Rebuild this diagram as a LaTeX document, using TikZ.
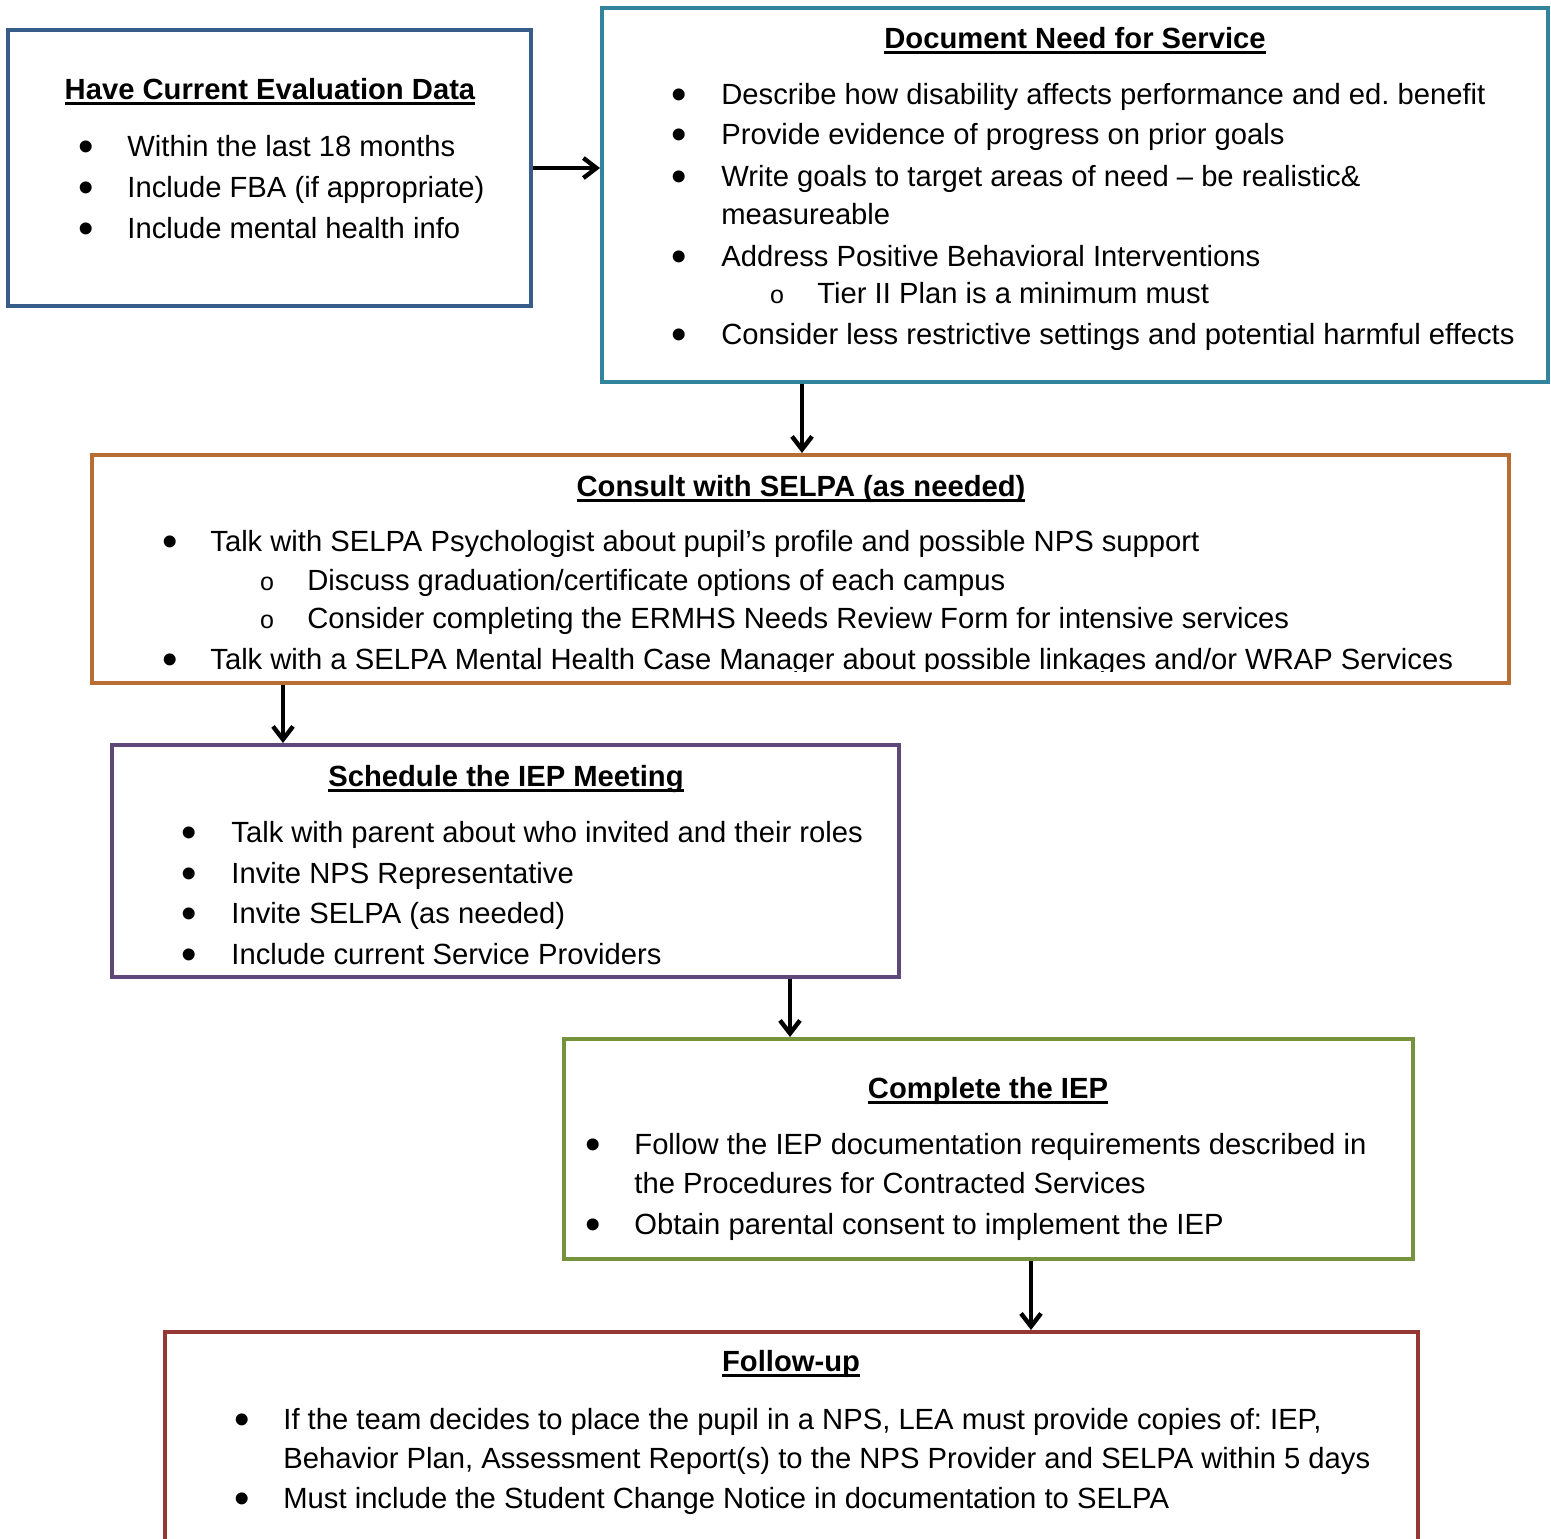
\documentclass[tikz,border=0pt]{standalone}
\usepackage{fontspec}
\setmainfont{Liberation Sans}
\usetikzlibrary{arrows.meta,fit,calc}
\frenchspacing

\definecolor{evalblue}{RGB}{56,93,138}
\definecolor{needteal}{RGB}{49,132,155}
\definecolor{consultorange}{RGB}{184,110,50}
\definecolor{schedpurple}{RGB}{94,72,122}
\definecolor{completegreen}{RGB}{118,146,60}
\definecolor{followred}{RGB}{149,55,53}

% bold heading with a heavy underline
\newcommand\boxtitle[1]{\setbox0\hbox{\bfseries #1}\rlap{\rule[-2.9pt]{\wd0}{1.4pt}}\box0}
% bullet item: name, bullet x, text x, baseline y, text
\newcommand\bitem[5]{\node[dot] (#1-b) at (#2,#4+5) {\textbullet}; \node[txt] (#1) at (#3,#4) {#5};}
% sub item with an open circle marker
\newcommand\sitem[5]{\node[ring] (#1-b) at (#2,#4) {o}; \node[txt] (#1) at (#3,#4) {#5};}
% wrapped continuation line: name, x, baseline y, text
\newcommand\contline[4]{\node[txt] (#1) at (#2,#3) {#4};}

\begin{document}
\begin{tikzpicture}[x=0.5pt,y=-0.5pt,
  stagebox/.style={draw=#1,line width=2pt,inner sep=0pt,rectangle},
  arr/.style={line width=2.2pt,-{Straight Barb[length=6.5pt,width=10pt]}},
  txt/.style={anchor=base west,inner sep=0pt,font=\fontsize{14.6}{17}\selectfont},
  dot/.style={anchor=base,inner sep=0pt,font=\fontsize{22}{24}\selectfont},
  ring/.style={anchor=base,inner sep=0pt,font=\fontsize{12.5}{14}\selectfont},
  ttl/.style={anchor=base,inner sep=0pt,font=\fontsize{14.6}{17}\selectfont}]

\useasboundingbox (0,0) rectangle (1551,1538);
\clip (0,0) rectangle (1551,1538);

% stage frames
\node[stagebox=evalblue,fit={(8,30)(531,306)}] (eval) {};
\node[stagebox=needteal,fit={(602,8)(1548,382)}] (need) {};
\node[stagebox=consultorange,fit={(92,455)(1509,683)}] (consult) {};
\node[stagebox=schedpurple,fit={(112,745)(899,977)}] (schedule) {};
\node[stagebox=completegreen,fit={(564,1039)(1413,1259)}] (complete) {};
\node[stagebox=followred,fit={(165,1332)(1418,1570)}] (followup) {};

% flow between stages
\draw[arr] (eval.east) -- (eval.east -| need.west);
\coordinate (n2c) at ($(need.south west)+(202,0)$);
\draw[arr] (n2c) -- (n2c |- consult.north);
\coordinate (c2s) at ($(consult.south west)+(193,0)$);
\draw[arr] (c2s) -- (c2s |- schedule.north);
\coordinate (s2c) at ($(schedule.south west)+(680,0)$);
\draw[arr] (s2c) -- (s2c |- complete.north);
\coordinate (c2f) at ($(complete.south west)+(469,0)$);
\draw[arr] (c2f) -- (c2f |- followup.north);

% Have Current Evaluation Data
\node[ttl] (eval-t) at (270,99) {\boxtitle{Have Current Evaluation Data}};
\bitem{e1}{86}{127}{156}{Within the last 18 months}
\bitem{e2}{86}{127}{197}{Include FBA (if appropriate)}
\bitem{e3}{86}{127}{238}{Include mental health info}

% Document Need for Service
\node[ttl] (need-t) at (1075,48) {\boxtitle{Document Need for Service}};
\bitem{n1}{679}{721}{104}{Describe how disability affects performance and ed. benefit}
\bitem{n2}{679}{721}{144}{Provide evidence of progress on prior goals}
\bitem{n3}{679}{721}{186}{Write goals to target areas of need – be realistic\&}
\contline{n3c}{721}{224}{measureable}
\bitem{n4}{679}{721}{266}{Address Positive Behavioral Interventions}
\sitem{n4a}{777}{817}{303}{Tier II Plan is a minimum must}
\bitem{n5}{679}{721}{344}{Consider less restrictive settings and potential harmful effects}

% Consult with SELPA
\node[ttl] (consult-t) at (801,496) {\boxtitle{Consult with SELPA (as needed)}};
\bitem{c1}{170}{210}{551}{Talk with SELPA Psychologist about pupil’s profile and possible NPS support}
\sitem{c1a}{267}{307}{590}{Discuss graduation/certificate options of each campus}
\sitem{c1b}{267}{307}{628}{Consider completing the ERMHS Needs Review Form for intensive services}
\begin{scope}
  \clip (92,455) rectangle (1509,671);
  \bitem{c2}{170}{210}{669}{Talk with a SELPA Mental Health Case Manager about possible linkages and/or WRAP Services}
\end{scope}

% Schedule the IEP Meeting
\node[ttl] (schedule-t) at (506,786) {\boxtitle{Schedule the IEP Meeting}};
\bitem{s1}{189}{231}{842}{Talk with parent about who invited and their roles}
\bitem{s2}{189}{231}{883}{Invite NPS Representative}
\bitem{s3}{189}{231}{923}{Invite SELPA (as needed)}
\bitem{s4}{189}{231}{964}{Include current Service Providers}

% Complete the IEP
\node[ttl] (complete-t) at (988,1098) {\boxtitle{Complete the IEP}};
\bitem{p1}{593}{634}{1154}{Follow the IEP documentation requirements described in}
\contline{p1c}{634}{1193}{the Procedures for Contracted Services}
\bitem{p2}{593}{634}{1234}{Obtain parental consent to implement the IEP}

% Follow-up
\node[ttl] (followup-t) at (791,1371) {\boxtitle{Follow-up}};
\bitem{f1}{242}{283}{1429}{If the team decides to place the pupil in a NPS, LEA must provide copies of: IEP,}
\contline{f1c}{283}{1468}{Behavior Plan, Assessment Report(s) to the NPS Provider and SELPA within 5 days}
\bitem{f2}{242}{283}{1508}{Must include the Student Change Notice in documentation to SELPA}

\end{tikzpicture}
\end{document}
